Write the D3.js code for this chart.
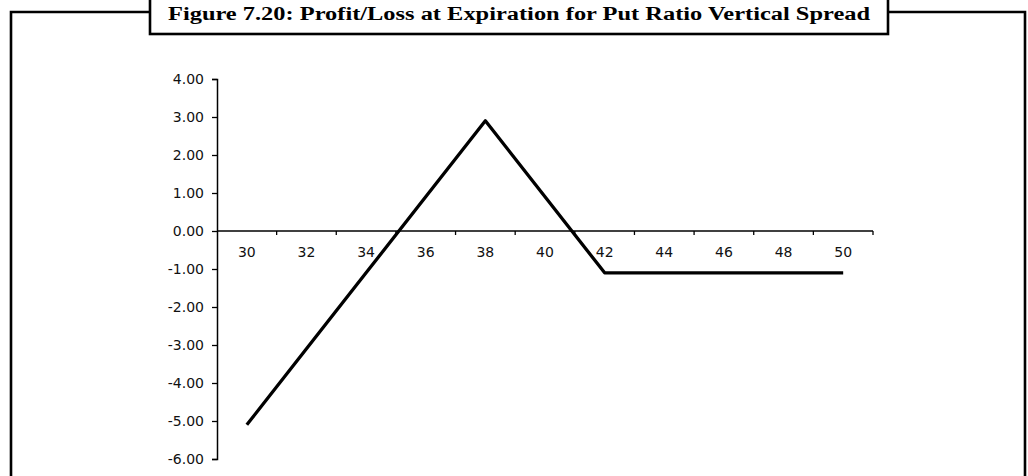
<!DOCTYPE html>
<html>
<head>
<meta charset="utf-8">
<script src="https://cdn.jsdelivr.net/npm/d3@7"></script>
<style>
  body { margin: 0; background: #fff; }
  svg { display: block; }
</style>
</head>
<body>
<script>
const SVG_WIDTH = 1028;
const SVG_HEIGHT = 476;

const TITLE = 'Figure 7.20: Profit/Loss at Expiration for Put Ratio Vertical Spread';

// stock price at expiration (category axis) and profit/loss
const prices = [30, 32, 34, 36, 38, 40, 42, 44, 46, 48, 50];
const profit = [-5.1, -3.1, -1.1, 0.9, 2.9, 0.9, -1.1, -1.1, -1.1, -1.1, -1.1];
const yTicks = [4, 3, 2, 1, 0, -1, -2, -3, -4, -5, -6];

const LABEL_FONT = '"DejaVu Sans", Verdana, sans-serif';

// plain hyphen for negatives, like the spreadsheet does
const fmt = d3.formatLocale({ decimal: '.', thousands: ',', grouping: [3], currency: ['', ''], minus: '-' }).format('.2f');

const svg = d3.select('body').append('svg')
    .attr('width', SVG_WIDTH)
    .attr('height', SVG_HEIGHT);

// frame round the figure, broken by the title box
svg.append('path')
  .attr('d', 'M11,480 L11,12 L150,12 M888,12 L1025,12 L1025,480')
  .attr('fill', 'none')
  .attr('stroke', '#000')
  .attr('stroke-width', 2.6);

svg.append('rect')
  .attr('x', 150)
  .attr('y', -4)
  .attr('width', 738)
  .attr('height', 38)
  .attr('fill', '#fff')
  .attr('stroke', '#000')
  .attr('stroke-width', 2.6);

svg.append('text')
  .attr('x', 519)
  .attr('y', 20)
  .attr('text-anchor', 'middle')
  .attr('font-family', '"Liberation Serif", "DejaVu Serif", serif')
  .attr('font-weight', 'bold')
  .attr('font-size', 18)
  .attr('textLength', 702)
  .attr('lengthAdjust', 'spacingAndGlyphs')
  .text(TITLE);

const x = d3.scaleBand().domain(prices).range([217, 873]).padding(0);
const y = d3.scaleLinear().domain([-6, 4]).range([459, 79]);

// y axis
const yAxis = svg.append('g')
  .attr('transform', 'translate(217,0)')
  .call(d3.axisLeft(y).tickValues(yTicks).tickSize(5).tickPadding(8).tickFormat(fmt));

yAxis.select('.domain').attr('stroke-width', 1.5);
yAxis.selectAll('.tick line').attr('stroke-width', 1.3);
yAxis.selectAll('.tick text')
  .attr('font-family', LABEL_FONT)
  .attr('font-size', 14)
  .attr('fill', '#111');

// x axis sits on zero, ticks between categories
const xAxis = svg.append('g').attr('transform', `translate(0,${y(0)})`);

xAxis.append('line')
  .attr('x1', 217)
  .attr('x2', x.range()[1])
  .attr('stroke', '#000')
  .attr('stroke-width', 1.5);

xAxis.selectAll('.tick')
  .data(prices)
  .enter().append('line')
  .attr('x1', d => x(d) + x.bandwidth())
  .attr('x2', d => x(d) + x.bandwidth())
  .attr('y1', 0)
  .attr('y2', 4)
  .attr('stroke', '#000')
  .attr('stroke-width', 1.3);

xAxis.selectAll('.label')
  .data(prices)
  .enter().append('text')
  .attr('x', d => x(d) + x.bandwidth() / 2)
  .attr('y', 26)
  .attr('text-anchor', 'middle')
  .attr('font-family', LABEL_FONT)
  .attr('font-size', 14)
  .attr('fill', '#111')
  .text(d => d);

// profit/loss line
const line = d3.line()
  .x((d, i) => x(prices[i]) + x.bandwidth() / 2)
  .y(d => y(d));

svg.append('path')
  .datum(profit)
  .attr('d', line)
  .attr('fill', 'none')
  .attr('stroke', '#000')
  .attr('stroke-width', 3.3)
  .attr('stroke-linejoin', 'round');
</script>
</body>
</html>
